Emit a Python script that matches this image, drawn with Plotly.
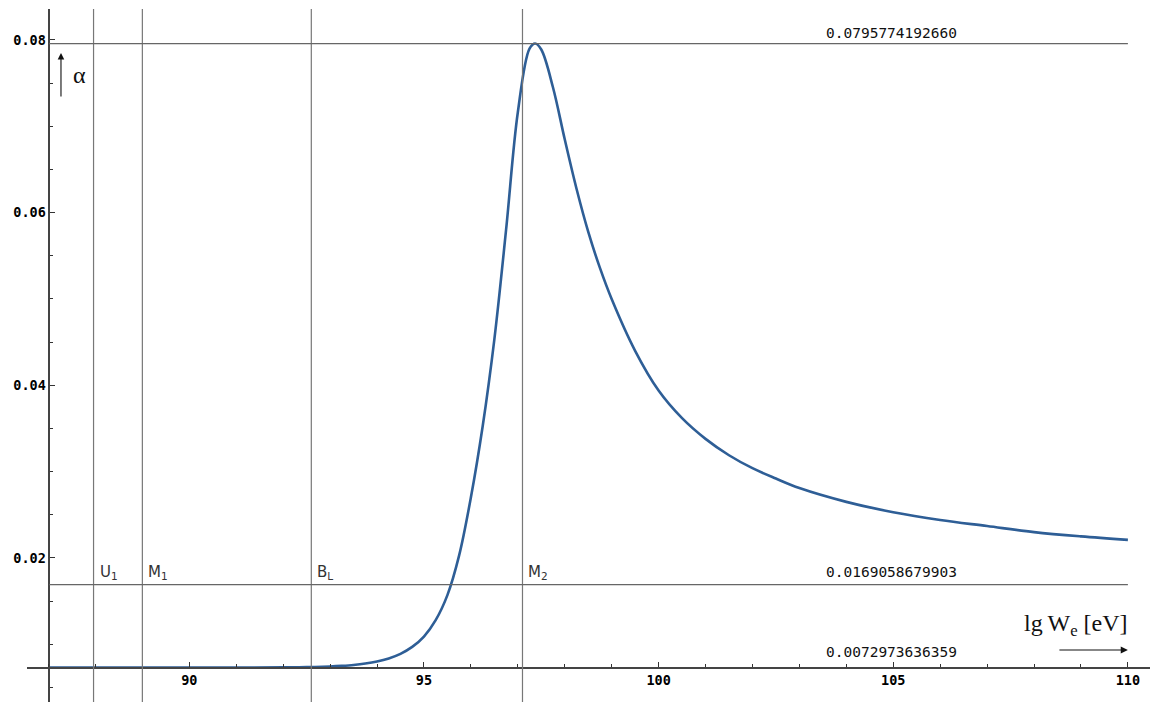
import plotly.graph_objects as go

# ---- data ----
lg_energy = [87.0, 88.0, 89.0, 90.0, 91.0, 92.0, 92.5, 93.0, 93.25, 93.5,
             93.75, 94.0, 94.25, 94.5, 94.75, 95.0, 95.25, 95.5, 95.75, 96.0,
             96.25, 96.5, 96.75, 97.0, 97.25, 97.37, 97.5, 97.75, 98.0, 98.25,
             98.5, 98.75, 99.0, 99.5, 100.0, 100.5, 101.0, 101.5, 102.0, 102.5,
             103.0, 104.0, 105.0, 106.0, 107.0, 108.0, 109.0, 110.0]
alpha = [0.00730, 0.00730, 0.00730, 0.00731, 0.00731, 0.00733, 0.00736, 0.00744,
         0.00751, 0.00761, 0.00777, 0.00801, 0.00837, 0.00890, 0.00970, 0.01090,
         0.01280, 0.01570, 0.02030, 0.02700, 0.03520, 0.04530, 0.05800, 0.07160,
         0.07900, 0.07960, 0.07890, 0.07450, 0.06850, 0.06280, 0.05780, 0.05360,
         0.05000, 0.04400, 0.03940, 0.03620, 0.03380, 0.03190, 0.03040, 0.02920,
         0.02810, 0.02650, 0.02530, 0.02440, 0.02370, 0.02300, 0.02250, 0.02210]

marker_names = ["U<sub>1</sub>", "M<sub>1</sub>", "B<sub>L</sub>", "M<sub>2</sub>"]
marker_x = [87.96, 89.0, 92.6, 97.1]

level_values = [0.0795774192660, 0.0169058679903]
base_value = 0.0072973636359

x_tickvals = [90, 95, 100, 105, 110]
y_tickvals = [0.02, 0.04, 0.06, 0.08]

X_MIN, X_MAX = 86.542, 110.471
Y_MIN, Y_MAX = 0.003320, 0.083591
Y_AXIS_X = 87.017

fig = go.Figure()
fig.add_trace(go.Scatter(
    x=lg_energy, y=alpha, mode="lines",
    line=dict(color="#2e5e96", width=2.6, shape="spline", smoothing=1.0),
    showlegend=False, hoverinfo="skip"))

shapes = []
for xv in marker_x:
    shapes.append(dict(type="line", xref="x", yref="paper", x0=xv, x1=xv,
                       y0=0, y1=0.98718, line=dict(color="#777777", width=1.2)))
for yv in level_values:
    shapes.append(dict(type="line", xref="x", yref="y", x0=Y_AXIS_X, x1=110,
                       y0=yv, y1=yv, line=dict(color="#666666", width=1.2)))

annotations = []
for name, xv in zip(marker_names, marker_x):
    annotations.append(dict(x=xv, y=level_values[1], xref="x", yref="y",
                            text=name, showarrow=False, xanchor="left",
                            yanchor="bottom", xshift=4, yshift=1,
                            font=dict(family="DejaVu Sans", size=15, color="#333333")))

num_font = dict(family="DejaVu Sans Mono", size=14.5, color="#111111")
for yv, ysh in [(level_values[0], 11), (level_values[1], 13), (base_value, 16)]:
    annotations.append(dict(x=103.52, y=yv, xref="x", yref="y",
                            text=f"{yv:.13f}", showarrow=False, xanchor="left",
                            yanchor="middle", yshift=ysh, font=num_font))

# axis caption lgW_e [eV] with arrow
annotations.append(dict(x=110, y=0.012239, xref="x", yref="y",
                        text="lg\u2009W<sub>e</sub> [eV]", showarrow=False,
                        xanchor="right", yanchor="middle", xshift=2,
                        font=dict(family="Liberation Serif", size=24, color="#111111")))
annotations.append(dict(x=110, y=0.009343, xref="x", yref="y", text="",
                        showarrow=True, ax=-70, ay=0, arrowhead=2, arrowsize=1.3,
                        arrowwidth=1.1, arrowcolor="#111111"))
# alpha caption with arrow
annotations.append(dict(x=87.266, y=0.078494, xref="x", yref="y", text="",
                        showarrow=True, ax=0, ay=45, arrowhead=2, arrowsize=1.2,
                        arrowwidth=1.1, arrowcolor="#111111"))
annotations.append(dict(x=87.65, y=0.075946, xref="x", yref="y", text="α",
                        showarrow=False, xanchor="center", yanchor="middle",
                        font=dict(family="Liberation Serif", size=24, color="#111111")))

tick_font = dict(family="DejaVu Sans Mono", size=13.5, color="#000000", weight="bold")

fig.update_layout(
    width=1154, height=702, autosize=False,
    margin=dict(l=0, r=0, t=0, b=0, pad=0),
    paper_bgcolor="white", plot_bgcolor="white",
    shapes=shapes, annotations=annotations, showlegend=False,
    xaxis=dict(domain=[27 / 1154, 1150 / 1154], range=[X_MIN, X_MAX],
               anchor="free", position=1 - 667.7 / 702,
               showgrid=False, zeroline=False, showline=True,
               linecolor="#444444", linewidth=1.5,
               tickmode="array", tickvals=x_tickvals,
               ticktext=[str(v) for v in x_tickvals],
               ticks="inside", ticklen=5, tickwidth=1, tickcolor="#333333",
               minor=dict(dtick=1, tick0=0, ticks="inside", ticklen=3,
                          tickwidth=1, tickcolor="#333333", showgrid=False),
               tickfont=tick_font, automargin=False, fixedrange=True),
    yaxis=dict(domain=[0, 0.98718], range=[Y_MIN, Y_MAX],
               anchor="free", position=49.3 / 1154,
               showgrid=False, zeroline=False, showline=True,
               linecolor="#444444", linewidth=1.5,
               tickmode="array", tickvals=y_tickvals,
               ticktext=[f"{v:.2f}" for v in y_tickvals],
               ticks="inside", ticklen=5, tickwidth=1, tickcolor="#333333",
               minor=dict(dtick=0.005, tick0=0, ticks="inside", ticklen=3,
                          tickwidth=1, tickcolor="#333333", showgrid=False),
               tickfont=tick_font, automargin=False, fixedrange=True),
)

fig.write_html("out.html")
